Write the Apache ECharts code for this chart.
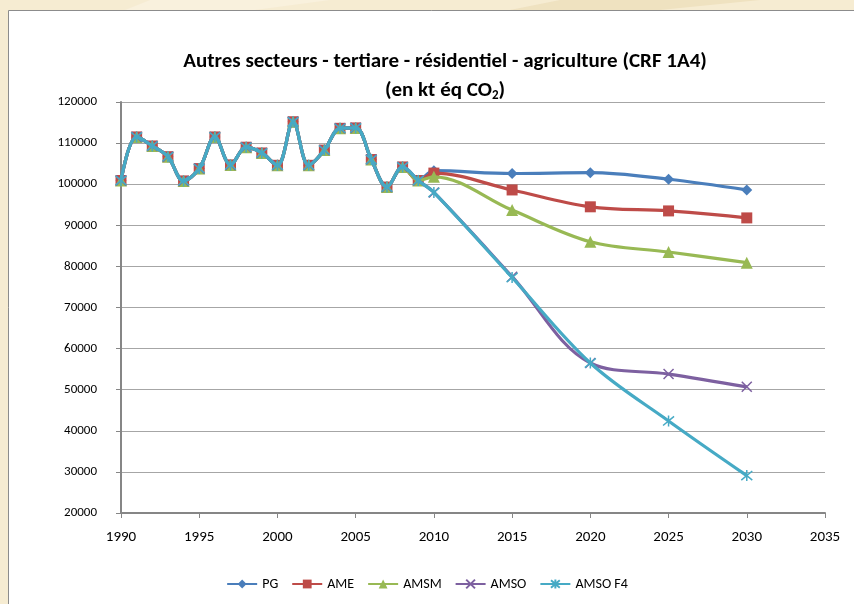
<!DOCTYPE html>
<html>
<head>
<meta charset="utf-8">
<script src="https://cdn.jsdelivr.net/npm/echarts@6/dist/echarts.min.js"></script>
<style>
  html, body { margin: 0; padding: 0; background: #f6ecd2; }
  #main { width: 854px; height: 604px; }
</style>
</head>
<body>
<div id="main"></div>
<script>
// historical inventory, identical for every scenario
const histYears = [1990, 1991, 1992, 1993, 1994, 1995, 1996, 1997, 1998, 1999,
                   2000, 2001, 2002, 2003, 2004, 2005, 2006, 2007, 2008, 2009]
const histValues = [100900, 111500, 109300, 106700, 100800, 103800, 111500, 104700, 109000, 107600,
                    104600, 115200, 104600, 108300, 113600, 113700, 106000, 99300, 104200, 100900]

// projections
const projYears = [2010, 2015, 2020, 2025, 2030]
const pg     = [103300, 102600, 102800, 101200, 98600]
const ame    = [102700, 98600, 94500, 93500, 91800]
const amsm   = [101800, 93700, 86000, 83500, 80900]
const amso   = [98000, 77500, 56500, 53800, 50700]
const amsoF4 = [98000, 77300, 56500, 42400, 29100]

const seriesNames = ['PG', 'AME', 'AMSM', 'AMSO', 'AMSO F4']
const xTicks = [1990, 1995, 2000, 2005, 2010, 2015, 2020, 2025, 2030, 2035]

const COLORS = ['#4a7ebb', '#be4b48', '#98b954', '#7d60a0', '#46aac5']
const SYMBOLS = [
  'diamond',
  'rect',
  'triangle',
  'path://M0,0L10,10M10,0L0,10',
  'path://M0,0L10,10M10,0L0,10M5,-1L5,11'
]
const SYMBOL_SIZES = [11, 11, 12, 10, 11]

const FONT = 'Carlito, "Liberation Sans Narrow", "Liberation Sans", sans-serif'

function buildData(proj) {
  const pts = histYears.map((y, i) => [y, histValues[i]])
  projYears.forEach((y, i) => pts.push([y, proj[i]]))
  return pts
}

const projections = [pg, ame, amsm, amso, amsoF4]

const series = projections.map((proj, i) => ({
  name: seriesNames[i],
  type: 'line',
  data: buildData(proj),
  smooth: 0.35,
  symbol: SYMBOLS[i],
  symbolSize: SYMBOL_SIZES[i],
  lineStyle: { color: COLORS[i], width: 3.2 },
  itemStyle: { color: COLORS[i], borderColor: COLORS[i], borderWidth: i >= 3 ? 1.5 : 0 },
  z: 2 + i,
}))

const chart = echarts.init(document.getElementById('main'))
chart.setOption({
  backgroundColor: '#f6ecd2',
  animation: false,
  graphic: [
    { type: 'polygon', silent: true, z: -10,
      shape: { points: [[150, 0], [330, 0], [240, 12], [120, 12]] },
      style: { fill: '#f9f1dd' } },
    { type: 'polygon', silent: true, z: -10,
      shape: { points: [[560, 0], [760, 0], [640, 12], [500, 12]] },
      style: { fill: '#efe2c0' } },
    { type: 'rect', silent: true, z: -5,
      shape: { x: 8.5, y: 10.5, width: 860, height: 610 },
      style: { fill: '#ffffff', stroke: '#8c8c8c', lineWidth: 1 } },
  ],
  title: {
    text: 'Autres secteurs - tertiare - résidentiel - agriculture (CRF 1A4)\n{a|(en kt éq CO}{s|2}{a|)}',
    left: 440, textAlign: 'center', top: 42,
    textStyle: {
      fontFamily: FONT, fontSize: 21, fontWeight: 'bold', color: '#000', lineHeight: 29,
      rich: {
        a: { fontFamily: FONT, fontSize: 21, fontWeight: 'bold', color: '#000', lineHeight: 29 },
        s: { fontFamily: FONT, fontSize: 13, fontWeight: 'bold', color: '#000', lineHeight: 29, padding: [10, 0, 0, 0] },
      }
    }
  },
  legend: {
    bottom: 8, left: 'center',
    itemWidth: 30, itemHeight: 11, itemGap: 13,
    textStyle: { fontFamily: FONT, fontSize: 14, color: '#000' },
    data: seriesNames,
  },
  grid: { left: 121, right: 29, top: 102, bottom: 91 },
  xAxis: {
    type: 'value', min: 1990, max: 2035, interval: 5,
    axisLine: { show: true, lineStyle: { color: '#868686', width: 2 } },
    axisTick: { show: true, length: 5, lineStyle: { color: '#868686', width: 1 } },
    axisLabel: { fontFamily: FONT, fontSize: 15, color: '#000', margin: 17,
      formatter: v => xTicks.includes(v) ? String(v) : '' },
    splitLine: { show: false },
  },
  yAxis: {
    type: 'value', min: 20000, max: 120000, interval: 10000,
    axisLine: { show: true, lineStyle: { color: '#868686', width: 2 } },
    axisTick: { show: true, length: 5, lineStyle: { color: '#868686', width: 1 } },
    axisLabel: { fontFamily: FONT, fontSize: 13, color: '#000', margin: 24,
      formatter: v => String(v) },
    splitLine: { lineStyle: { color: '#a6a6a6', width: 1 } },
  },
  series: series,
})
</script>
</body>
</html>
